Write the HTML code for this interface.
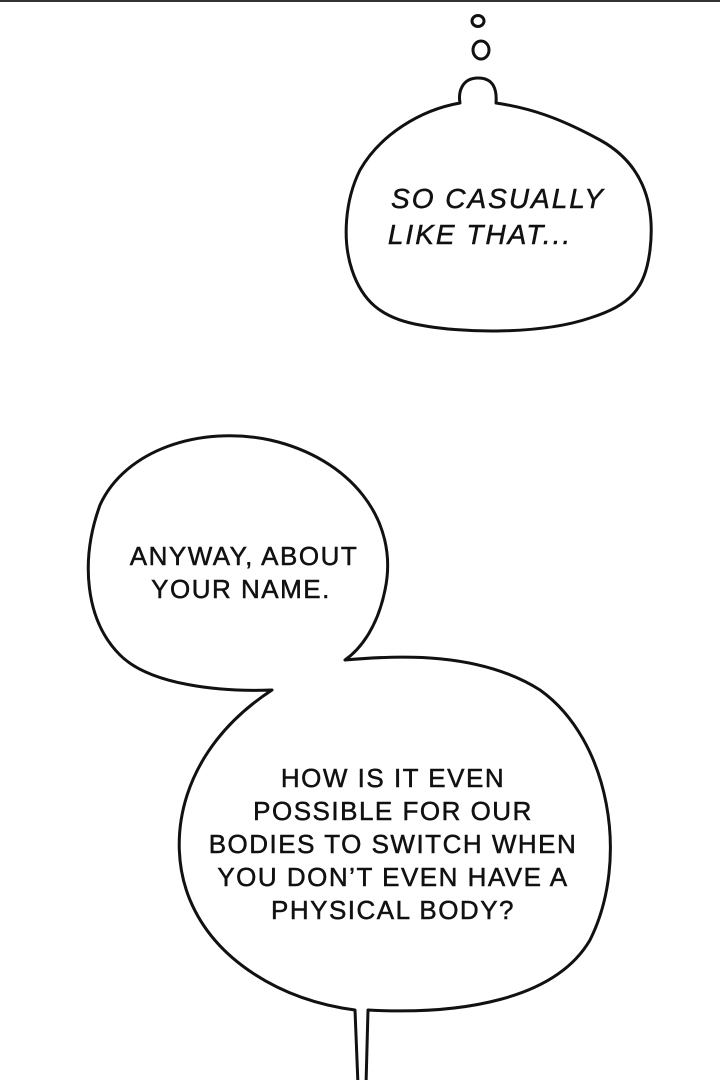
<!DOCTYPE html>
<html><head><style>
html,body{margin:0;padding:0;background:#fff;}
svg{display:block;}
text{font-family:"Liberation Sans",sans-serif;fill:#111;stroke:#111;stroke-width:0.5;}
</style></head><body>
<svg width="720" height="1080" viewBox="0 0 720 1080">
<rect width="720" height="1080" fill="#fff"/>
<line x1="0" y1="1" x2="720" y2="1" stroke="#333" stroke-width="2"/>
<g fill="#fff" stroke="#111" stroke-width="3" stroke-linejoin="round">
<ellipse cx="478" cy="21" rx="6" ry="5.5"/>
<ellipse cx="481" cy="50" rx="8" ry="9"/>
<path d="M460,103 C458,92 462,78 478,78 C494,78 497,90 496,103 C530,108 560,118 600,140 C640,162 656,200 650,250 C645,290 630,305 590,318 C540,335 460,333 420,325 C380,318 362,300 352,270 C342,240 345,200 360,170 C380,135 420,110 460,103 Z"/>
<path d="M345,660 C400,655 480,652 540,690 C610,740 630,860 590,940 C555,1000 460,1015 368,1010 L366,1085 L358,1085 L355,1010 C280,1000 215,960 190,900 C165,840 180,750 272,690 C220,692 150,685 120,655 C85,620 80,560 100,505 C125,450 200,425 270,440 C350,458 400,520 385,590 C378,625 362,648 345,660 Z"/>
</g>
<g font-style="italic" font-size="28" letter-spacing="2" text-anchor="middle">
<text x="498" y="208">SO CASUALLY</text>
<text x="480" y="244">LIKE THAT...</text>
</g>
<g font-size="26" letter-spacing="1.5" text-anchor="middle">
<text x="244" y="565">ANYWAY, ABOUT</text>
<text x="241" y="598">YOUR NAME.</text>
<text x="393" y="787">HOW IS IT EVEN</text>
<text x="393" y="820">POSSIBLE FOR OUR</text>
<text x="393" y="853">BODIES TO SWITCH WHEN</text>
<text x="393" y="886">YOU DON’T EVEN HAVE A</text>
<text x="393" y="919">PHYSICAL BODY?</text>
</g>
</svg>
</body></html>
